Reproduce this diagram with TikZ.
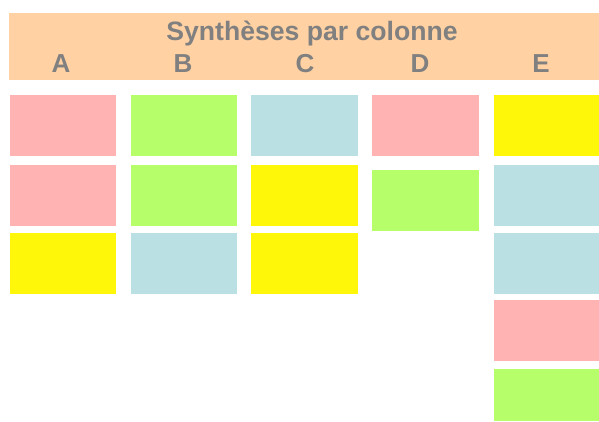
\documentclass[tikz,border=0pt]{standalone}
\usepackage{fontspec}
\setmainfont{Liberation Sans}
\usepackage{tikz}
\definecolor{kopf}{HTML}{FFD1A3}
\definecolor{schrift}{HTML}{808080}
\definecolor{rosa}{HTML}{FFB3B3}
\definecolor{gruen}{HTML}{B6FF6A}
\definecolor{blau}{HTML}{BAE0E3}
\definecolor{gelb}{HTML}{FFF70A}
\tikzset{kopftext/.style={anchor=base,inner sep=0pt,text=schrift,font=\fontsize{26}{28}\selectfont\bfseries}}

\begin{document}
\begin{tikzpicture}[x=1pt,y=-1pt]
      \useasboundingbox (0,0) rectangle (599,421);

      % Kopf
      \fill [color=kopf] (9,13) rectangle (599,80);
      \node [kopftext,font=\fontsize{26.6}{28}\selectfont\bfseries] (titel) at (312,40.5) {Synthèses par colonne};
      \node [kopftext] (kA) at (61,72) {A};
      \node [kopftext] (kB) at (183,72) {B};
      \node [kopftext] (kC) at (305,72) {C};
      \node [kopftext] (kD) at (420,72) {D};
      \node [kopftext] (kE) at (541,72) {E};

      % A
      \fill [color=rosa] (10,95) rectangle ++ (106,61);
      \fill [color=rosa] (10,165) rectangle ++ (106,61);
      \fill [color=gelb] (10,233) rectangle ++ (106,61);

      % B
      \fill [color=gruen] (131,95) rectangle ++ (106,61);
      \fill [color=gruen] (131,165) rectangle ++ (106,61);
      \fill [color=blau] (131,233) rectangle ++ (106,61);

      % C
      \fill [color=blau] (251,95) rectangle ++ (107,61);
      \fill [color=gelb] (251,165) rectangle ++ (107,61);
      \fill [color=gelb] (251,233) rectangle ++ (107,61);

      % D
      \fill [color=rosa] (372,95) rectangle ++ (107,61);
      \fill [color=gruen] (372,170) rectangle ++ (107,61);

      % E
      \fill [color=gelb] (494,95) rectangle ++ (105,61);
      \fill [color=blau] (494,165) rectangle ++ (105,61);
      \fill [color=blau] (494,233) rectangle ++ (105,61);
      \fill [color=rosa] (494,300) rectangle ++ (105,61);
      \fill [color=gruen] (494,369) rectangle ++ (105,52);
    \end{tikzpicture}
\end{document}
